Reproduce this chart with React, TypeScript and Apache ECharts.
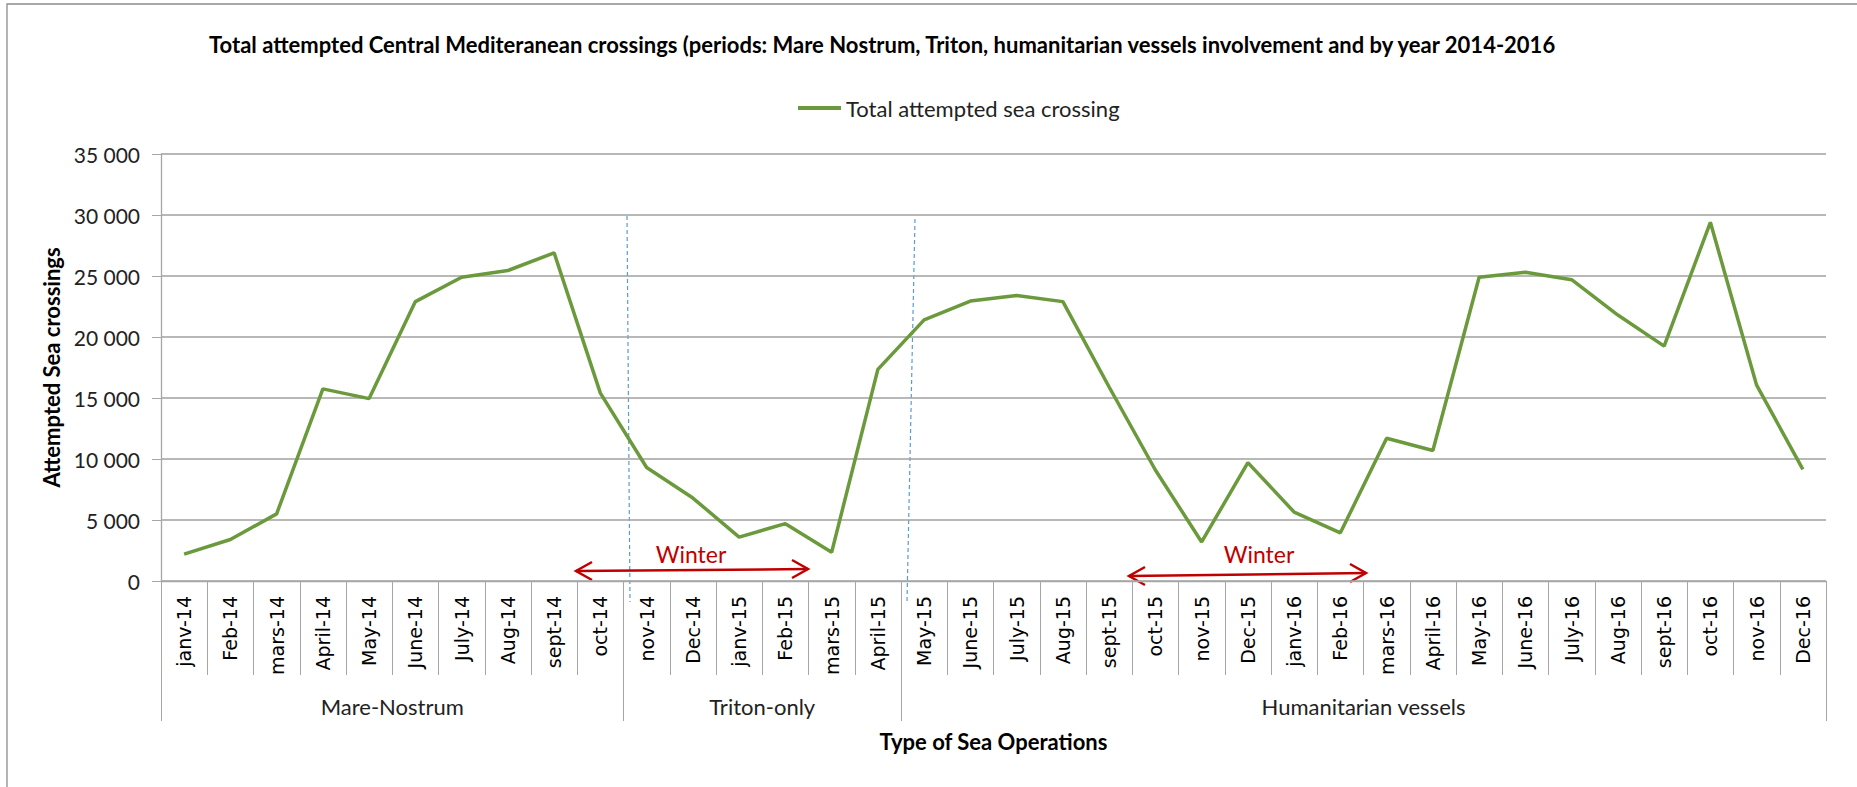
import React, { useEffect, useRef } from "react";
import * as echarts from "echarts";

const months: string[] = [
  "janv-14", "Feb-14", "mars-14", "April-14", "May-14", "June-14", "July-14", "Aug-14", "sept-14", "oct-14",
  "nov-14", "Dec-14", "janv-15", "Feb-15", "mars-15", "April-15",
  "May-15", "June-15", "July-15", "Aug-15", "sept-15", "oct-15", "nov-15", "Dec-15", "janv-16", "Feb-16",
  "mars-16", "April-16", "May-16", "June-16", "July-16", "Aug-16", "sept-16", "oct-16", "nov-16", "Dec-16",
];

const crossings: number[] = [
  2200, 3400, 5500, 15750, 14950, 22900, 24900, 25450, 26900, 15400,
  9300, 6800, 3600, 4700, 2350, 17350,
  21400, 22950, 23400, 22900, 15900, 9100, 3200, 9700, 5650, 3950,
  11700, 10700, 24900, 25300, 24700, 21800, 19250, 29400, 16050, 9150,
];

// group boundaries (in month units) and group labels
const groupNames: string[] = ["Mare-Nostrum", "Triton-only", "Humanitarian vessels"];
const groupBounds: number[] = [0, 10, 16, 36];

const yTicks = { min: 0, max: 35000, interval: 5000 };

const FONT = "Lato, 'Open Sans', sans-serif";
const RED = "#C00000";
const GRAY = "#a6a6a6";

export default function App() {
  const ref = useRef<HTMLDivElement>(null);
  useEffect(() => {
    document.body.style.margin = "0";
    if (!ref.current) return;
    const chart = echarts.init(ref.current, undefined, { renderer: "svg" });

    // group axis: 37 points (boundaries), labels at group centres
    const groupAxisData: string[] = [];
    for (let i = 0; i <= 36; i++) groupAxisData.push("");
    for (let g = 0; g < groupNames.length; g++) {
      const c = (groupBounds[g] + groupBounds[g + 1]) / 2;
      groupAxisData[c] = groupNames[g];
    }

    const arrow = (x1: number, y1: number, x2: number, y2: number) => {
      const st = { stroke: RED, lineWidth: 2.5, fill: null as any };
      return [
        { type: "line", shape: { x1, y1, x2, y2 }, style: st },
        { type: "polyline", shape: { points: [[x1 + 16, y1 - 9], [x1, y1], [x1 + 16, y1 + 9]] }, style: st },
        { type: "polyline", shape: { points: [[x2 - 16, y2 - 9], [x2, y2], [x2 - 16, y2 + 9]] }, style: st },
      ];
    };
    const dash = { stroke: "#5B9BD5", lineWidth: 1.2, lineDash: [4, 3] };

    chart.setOption({
      animation: false,
      backgroundColor: "#fff",
      title: {
        text: "Total attempted Central Mediteranean crossings (periods: Mare Nostrum, Triton, humanitarian vessels involvement and by year 2014-2016",
        left: 204,
        top: 28,
        textStyle: { fontFamily: FONT, fontWeight: "bold", fontSize: 22, color: "#000" },
      },
      legend: {
        left: 793,
        top: 92,
        icon: "rect",
        itemWidth: 43,
        itemHeight: 4,
        itemGap: 10,
        textStyle: { fontFamily: FONT, fontSize: 22, color: "#222" },
        data: ["Total attempted sea crossing"],
      },
      grid: { left: 161, right: 31, top: 154, bottom: 206 },
      xAxis: [
        {
          type: "category",
          data: months,
          boundaryGap: true,
          axisLine: { show: true, lineStyle: { color: GRAY, width: 1.3 } },
          axisTick: { show: true, interval: 0, length: 94, alignWithLabel: false, lineStyle: { color: GRAY } },
          axisLabel: {
            interval: 0,
            rotate: 90,
            margin: 15,
            fontFamily: "'DejaVu Sans', Verdana, sans-serif",
            fontSize: 19,
            color: "#000",
          },
        },
        {
          type: "category",
          data: groupAxisData,
          boundaryGap: false,
          position: "bottom",
          offset: 0,
          axisLine: { show: false },
          axisTick: {
            show: true,
            interval: (i: number) => groupBounds.indexOf(i) >= 0,
            length: 140,
            lineStyle: { color: GRAY },
          },
          axisLabel: { interval: 0, margin: 114, fontFamily: FONT, fontSize: 22, color: "#222" },
          name: "Type of Sea Operations",
          nameLocation: "middle",
          nameGap: 149,
          nameTextStyle: { fontFamily: FONT, fontWeight: "bold", fontSize: 22, color: "#000" },
        },
      ],
      yAxis: {
        type: "value",
        min: yTicks.min,
        max: yTicks.max,
        interval: yTicks.interval,
        axisLine: { show: true, lineStyle: { color: GRAY, width: 1.3 } },
        axisTick: { show: true, length: 9, lineStyle: { color: GRAY } },
        splitLine: { show: true, lineStyle: { color: "#a0a0a0", width: 1.5 } },
        axisLabel: {
          margin: 21,
          fontFamily: FONT,
          fontSize: 21,
          color: "#222",
          formatter: (v: number) => (v === 0 ? "0" : Math.floor(v / 1000) + " 000"),
        },
        name: "Attempted Sea crossings",
        nameLocation: "middle",
        nameGap: 98,
        nameTextStyle: { fontFamily: FONT, fontWeight: "bold", fontSize: 22, color: "#000" },
      },
      series: [
        {
          name: "Total attempted sea crossing",
          type: "line",
          xAxisIndex: 0,
          data: crossings,
          symbol: "none",
          lineStyle: { color: "#6B9A3C", width: 3.5 },
          itemStyle: { color: "#6B9A3C" },
        },
      ],
      graphic: [
        { type: "rect", shape: { x: 7, y: 4, width: 1900, height: 900 }, style: { stroke: "#8c8c8c", lineWidth: 1.3, fill: null } },
        { type: "line", shape: { x1: 627, y1: 216, x2: 630, y2: 602 }, style: dash },
        { type: "line", shape: { x1: 915, y1: 219, x2: 907, y2: 602 }, style: dash },
        ...arrow(576, 571, 808, 569),
        ...arrow(1129, 576, 1366, 573),
        { type: "text", x: 691, y: 554, style: { text: "Winter", fontFamily: FONT, fontSize: 23, fill: RED, textAlign: "center", textVerticalAlign: "middle" } },
        { type: "text", x: 1259, y: 554, style: { text: "Winter", fontFamily: FONT, fontSize: 23, fill: RED, textAlign: "center", textVerticalAlign: "middle" } },
      ],
    });
    return () => chart.dispose();
  }, []);
  return <div ref={ref} style={{ width: 1857, height: 787 }} />;
}
